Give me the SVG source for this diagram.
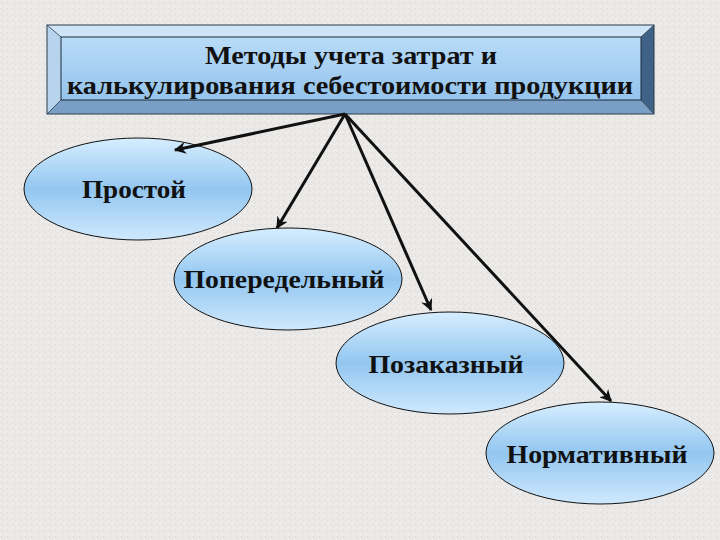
<svg xmlns="http://www.w3.org/2000/svg" width="720" height="540" viewBox="0 0 720 540">
  <defs>
    <pattern id="tex" width="6" height="6" patternUnits="userSpaceOnUse">
      <rect width="6" height="6" fill="#eae9e7"/>
      <rect x="1" y="2" width="1" height="1" fill="#d9d8d5"/>
      <rect x="4" y="0" width="1" height="1" fill="#f6f5f3"/>
      <rect x="3" y="4" width="1" height="1" fill="#dcdbd8"/>
      <rect x="0" y="5" width="1" height="1" fill="#f4f3f1"/>
    </pattern>
    <linearGradient id="ellGrad" x1="0" y1="0" x2="0" y2="1">
      <stop offset="0" stop-color="#d6eeff"/>
      <stop offset="0.5" stop-color="#93c6f0"/>
      <stop offset="1" stop-color="#cfe9fd"/>
    </linearGradient>
    <linearGradient id="boxGrad" x1="0" y1="0" x2="0" y2="1">
      <stop offset="0" stop-color="#b9dcf8"/>
      <stop offset="1" stop-color="#94c3ec"/>
    </linearGradient>
    <marker id="arrow" viewBox="0 0 10 10" refX="9" refY="5" markerWidth="4" markerHeight="4" orient="auto" markerUnits="strokeWidth">
      <path d="M0,0 L10,5 L0,10 L3,5 Z" fill="#111"/>
    </marker>
  </defs>
  <style>
    .ell { fill: url(#ellGrad); stroke: #111; stroke-width: 1; }
    .lbl { font-family: "Liberation Serif", "Times New Roman", serif; font-weight: bold; font-size: 26px; fill: #111; text-anchor: middle; }
    .title { font-family: "Liberation Serif", "Times New Roman", serif; font-weight: bold; font-size: 26px; fill: #111; text-anchor: middle; }
    .conn { stroke: #111; stroke-width: 3; fill: none; marker-end: url(#arrow); }
  </style>
  <rect width="720" height="540" fill="url(#tex)"/>

  <g id="title">
    <polygon points="47,25 654,25 641,37 61,37" fill="#cfe4f7"/>
    <polygon points="47,25 61,37 61,100 47,114" fill="#b7d4ef"/>
    <polygon points="47,114 61,100 641,100 654,114" fill="#7a9fc6"/>
    <polygon points="654,25 654,114 641,100 641,37" fill="#3f6286"/>
    <rect x="61" y="37" width="580" height="63" fill="url(#boxGrad)" stroke="#1c2a3a" stroke-width="1"/>
    <rect x="47" y="25" width="607" height="89" fill="none" stroke="#2a3a4a" stroke-width="1"/>
    <line x1="47" y1="25" x2="61" y2="37" stroke="#2a3a4a" stroke-width="0.8"/>
    <line x1="654" y1="25" x2="641" y2="37" stroke="#2a3a4a" stroke-width="0.8"/>
    <line x1="47" y1="114" x2="61" y2="100" stroke="#2a3a4a" stroke-width="0.8"/>
    <line x1="654" y1="114" x2="641" y2="100" stroke="#2a3a4a" stroke-width="0.8"/>
    <text class="title" x="351" y="64" textLength="292" lengthAdjust="spacingAndGlyphs">Методы учета затрат и</text>
    <text class="title" x="350" y="94" textLength="566" lengthAdjust="spacingAndGlyphs">калькулирования себестоимости продукции</text>
  </g>

  <g id="node-prostoy">
    <ellipse class="ell" cx="138" cy="189" rx="114" ry="51"/>
    <text class="lbl" x="134" y="198" textLength="104" lengthAdjust="spacingAndGlyphs">Простой</text>
  </g>
  <g id="node-poperedelny">
    <ellipse class="ell" cx="288" cy="279" rx="114" ry="51"/>
    <text class="lbl" x="284" y="288" textLength="201" lengthAdjust="spacingAndGlyphs">Попередельный</text>
  </g>
  <g id="node-pozakazny">
    <ellipse class="ell" cx="450" cy="363" rx="114" ry="51"/>
    <text class="lbl" x="446" y="373" textLength="155" lengthAdjust="spacingAndGlyphs">Позаказный</text>
  </g>
  <g id="node-normativny">
    <ellipse class="ell" cx="600" cy="453" rx="114" ry="51"/>
    <text class="lbl" x="597" y="463" textLength="181" lengthAdjust="spacingAndGlyphs">Нормативный</text>
  </g>

  <g id="connectors">
    <line class="conn" x1="345" y1="114" x2="175" y2="150"/>
    <line class="conn" x1="345" y1="114" x2="277" y2="228"/>
    <line class="conn" x1="345" y1="114" x2="431" y2="310"/>
    <line class="conn" x1="345" y1="114" x2="611" y2="401"/>
  </g>
</svg>
